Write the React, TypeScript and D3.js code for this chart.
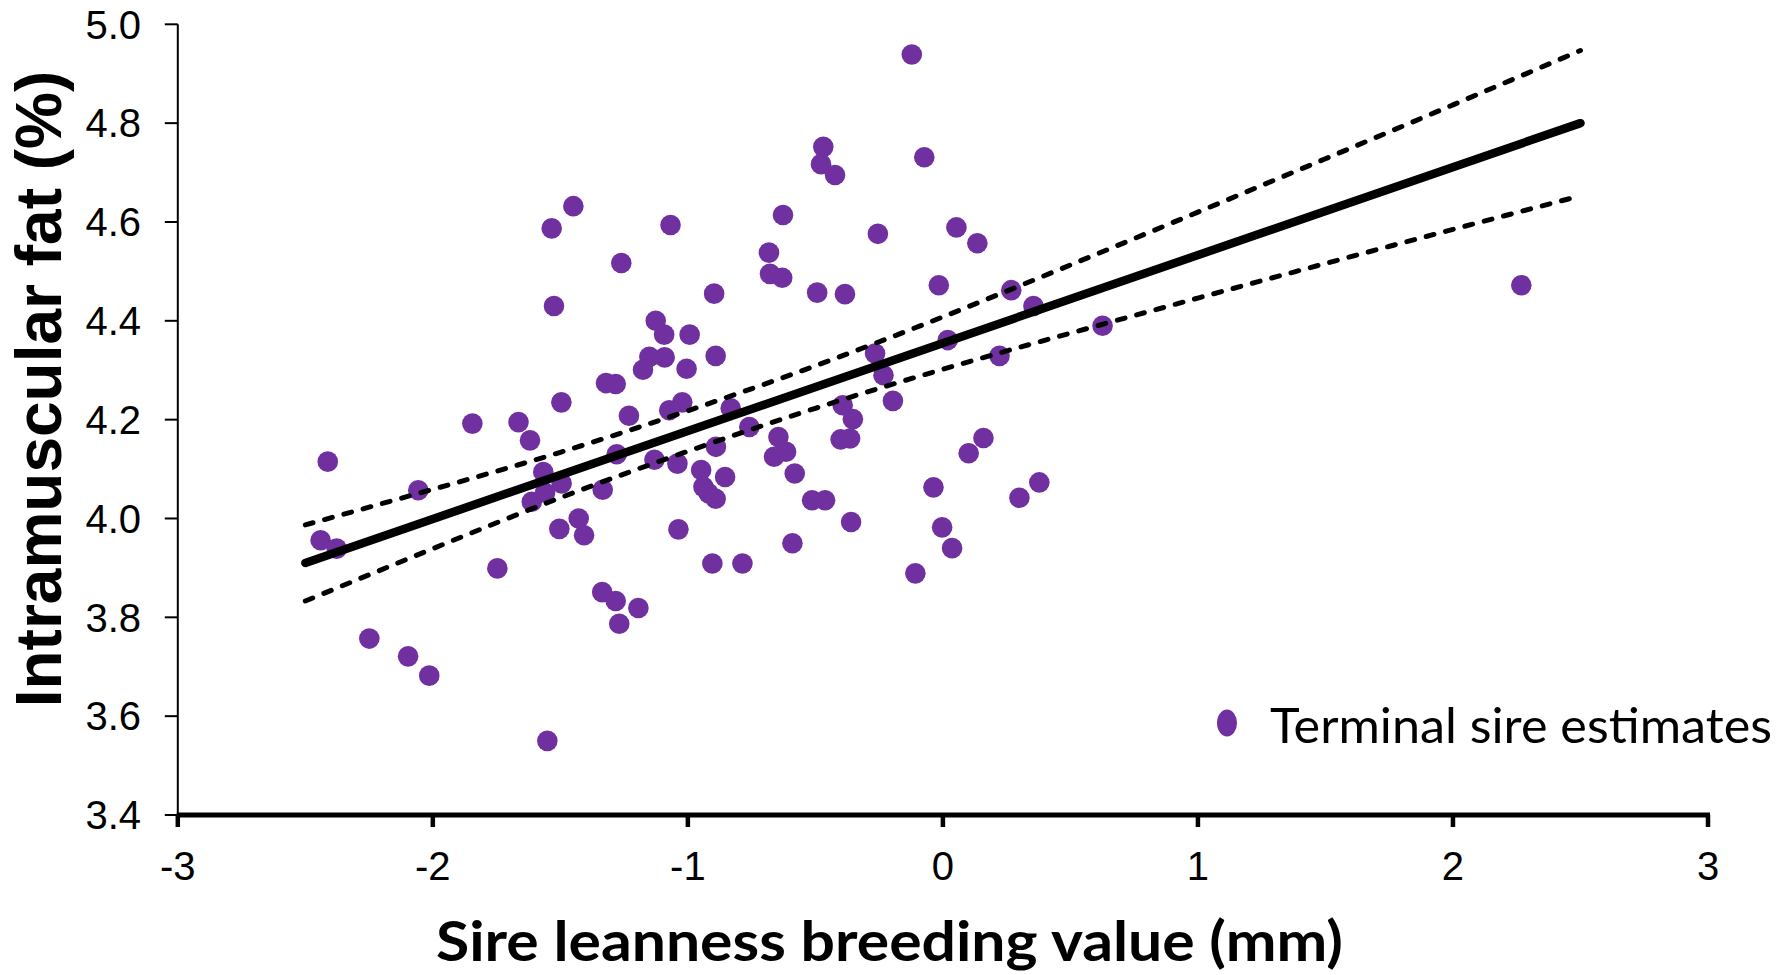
import React, { useEffect } from "react";
import * as d3 from "d3";

// ---- data ----
const xTicks = [-3, -2, -1, 0, 1, 2, 3];
const yTicks = [3.4, 3.6, 3.8, 4.0, 4.2, 4.4, 4.6, 4.8, 5.0];

const sireX = [
  -0.122, -0.469, -0.478, -0.423, -0.073, -1.449, -1.534, -1.068, -0.627, -0.255,
  0.053, 0.135, -1.261, -0.682, -0.678, -0.63, -0.897, -0.493, -0.384, -0.016,
  0.268, 0.355, 2.268, -1.525, -1.126, -1.093, -0.993, 0.626, 0.019, -0.891,
  -1.151, -1.091, -1.005, -1.176, -0.266, 0.222, -1.321, -1.283, -0.233, -1.496,
  -1.022, -1.073, -0.832, -0.393, -0.196, -1.231, -0.353, -1.845, -1.664, -1.619,
  -0.759, -0.645, -0.364, -0.401, 0.159, -0.89, -1.131, -1.041, -1.279, -0.615,
  -0.662, 0.101, -2.412, -1.567, -0.948, -0.581, -0.854, -1.495, -1.334, -0.939,
  -2.057, 0.378, -0.037, -0.919, -0.891, -1.612, -1.56, -0.513, -0.462, 0.3,
  -1.428, -0.36, -1.504, -1.037, -1.407, -0.003, -2.44, -2.377, -0.59, 0.036,
  -1.747, -0.904, -0.786, -0.108, -1.336, -1.283, -1.194, -1.269, -2.249, -2.097,
  -2.014, -1.551,
];
const imfY = [
  4.939, 4.752, 4.717, 4.695, 4.731, 4.632, 4.587, 4.594, 4.614, 4.576,
  4.589, 4.557, 4.517, 4.538, 4.495, 4.487, 4.455, 4.457, 4.454, 4.472,
  4.462, 4.43, 4.472, 4.43, 4.4, 4.372, 4.372, 4.39, 4.361, 4.329,
  4.327, 4.326, 4.303, 4.301, 4.334, 4.329, 4.274, 4.272, 4.29, 4.235,
  4.235, 4.219, 4.223, 4.229, 4.238, 4.208, 4.201, 4.192, 4.195, 4.158,
  4.185, 4.165, 4.162, 4.16, 4.163, 4.145, 4.119, 4.111, 4.13, 4.135,
  4.125, 4.132, 4.115, 4.094, 4.098, 4.091, 4.084, 4.071, 4.058, 4.064,
  4.057, 4.073, 4.063, 4.051, 4.04, 4.034, 4.052, 4.037, 4.037, 4.042,
  4.0, 3.993, 3.979, 3.978, 3.966, 3.982, 3.956, 3.939, 3.95, 3.94,
  3.899, 3.909, 3.909, 3.889, 3.851, 3.833, 3.819, 3.787, 3.757, 3.721,
  3.682, 3.55,
];

const fitX = [-2.5, 2.5];
const fitY = [3.91, 4.8];

const ciX = [-2.5, -2, -1.5, -1, -0.5, 0, 0.5, 1, 1.5, 2, 2.5];
const ciUpper = [3.987, 4.059, 4.134, 4.218, 4.309, 4.408, 4.513, 4.62, 4.728, 4.837, 4.947];
const ciLower = [3.833, 3.939, 4.042, 4.136, 4.223, 4.302, 4.375, 4.446, 4.516, 4.585, 4.653];

const xTitle = "Sire leanness breeding value (mm)";
const yTitle = "Intramuscular fat (%)";
const legendLabel = "Terminal sire estimates";

const PURPLE = "#7030A0";

export default function App() {
  useEffect(() => {
    document.body.style.margin = "0";
    document.body.style.overflow = "hidden";
  }, []);

  const W = 1787;
  const H = 975;
  const x = d3.scaleLinear().domain([-3, 3]).range([177.8, 1708]);
  const y = d3.scaleLinear().domain([3.4, 5.0]).range([815, 24.3]);

  const straight = d3
    .line<[number, number]>()
    .x((d) => x(d[0]))
    .y((d) => y(d[1]));
  const curved = d3
    .line<[number, number]>()
    .x((d) => x(d[0]))
    .y((d) => y(d[1]))
    .curve(d3.curveNatural);

  const fitPts = fitX.map((v, i) => [v, fitY[i]] as [number, number]);
  const upPts = ciX.map((v, i) => [v, ciUpper[i]] as [number, number]);
  const loPts = ciX.map((v, i) => [v, ciLower[i]] as [number, number]);
  const fmt = d3.format(".1f");

  const x0 = x(-3);
  const x1 = x(3);
  const yBase = y(3.4);
  const yTop = y(5.0);

  return (
    <svg
      width={W}
      height={H}
      viewBox={`0 0 ${W} ${H}`}
      style={{ position: "absolute", left: 0, top: 0, display: "block", background: "#fff" }}
    >
      <rect x={0} y={0} width={W} height={H} fill="#fff" />

      {/* points */}
      <g>
        {sireX.map((v, i) => (
          <circle key={i} cx={x(v)} cy={y(imfY[i])} r={10.3} fill={PURPLE} />
        ))}
      </g>

      {/* fitted line and confidence limits */}
      <path d={straight(fitPts) || ""} fill="none" stroke="#000" strokeWidth={8.5} strokeLinecap="round" />
      <path
        d={curved(upPts) || ""}
        fill="none"
        stroke="#000"
        strokeWidth={5}
        strokeLinecap="round"
        strokeDasharray="8 12"
      />
      <path
        d={curved(loPts) || ""}
        fill="none"
        stroke="#000"
        strokeWidth={5}
        strokeLinecap="round"
        strokeDasharray="8 12"
      />

      {/* y axis */}
      <line x1={x0} x2={x0} y1={yTop} y2={yBase} stroke="#000" strokeWidth={2} />
      {yTicks.map((t) => (
        <g key={t}>
          <line x1={x0 - 13} x2={x0} y1={y(t)} y2={y(t)} stroke="#000" strokeWidth={2} />
          <text
            x={141}
            y={y(t)}
            dy="0.355em"
            textAnchor="end"
            fontFamily="'Liberation Sans', Arial, sans-serif"
            fontSize={40}
            fill="#000"
          >
            {fmt(t)}
          </text>
        </g>
      ))}

      {/* x axis */}
      <line x1={x0 - 1} x2={x1 + 2} y1={yBase} y2={yBase} stroke="#000" strokeWidth={5} />
      {xTicks.map((t) => (
        <g key={t}>
          <line x1={x(t)} x2={x(t)} y1={yBase} y2={yBase + 12} stroke="#000" strokeWidth={4.5} />
          <text
            x={x(t)}
            y={880}
            textAnchor="middle"
            fontFamily="'Liberation Sans', Arial, sans-serif"
            fontSize={40}
            fill="#000"
          >
            {String(t)}
          </text>
        </g>
      ))}

      {/* axis titles */}
      <text
        x={436}
        y={961}
        textLength={907}
        lengthAdjust="spacingAndGlyphs"
        fontFamily="Lato, 'Open Sans', sans-serif"
        fontWeight="bold"
        fontSize={56}
        fill="#000"
      >
        {xTitle}
      </text>
      <text
        transform={`translate(61,389) rotate(-90)`}
        textAnchor="middle"
        fontFamily="'Liberation Sans', Arial, sans-serif"
        fontWeight="bold"
        fontSize={64}
        fill="#000"
      >
        {yTitle}
      </text>

      {/* legend */}
      <ellipse cx={1227} cy={723} rx={10} ry={13.5} fill={PURPLE} />
      <text
        x={1270}
        y={743}
        textLength={502}
        lengthAdjust="spacingAndGlyphs"
        fontFamily="Lato, 'Open Sans', sans-serif"
        fontSize={48}
        fill="#000"
      >
        {legendLabel}
      </text>
    </svg>
  );
}
